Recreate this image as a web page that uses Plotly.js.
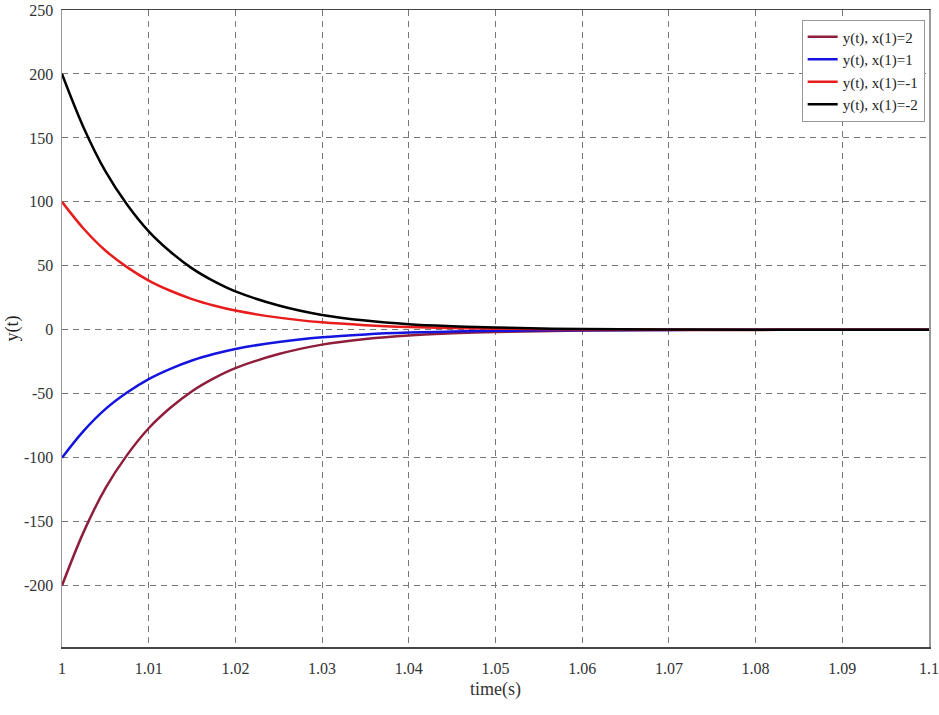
<!DOCTYPE html>
<html><head><meta charset="utf-8">
<script src="https://cdn.plot.ly/plotly-3.0.1.min.js"></script>
<style>html,body{margin:0;padding:0;background:#fff}#plot{width:939px;height:715px}</style>
</head><body><div id="plot"></div>
<script>
const time = [1, 1.0025, 1.005, 1.0075, 1.01, 1.0125, 1.015, 1.0175, 1.02, 1.025, 1.03, 1.035, 1.04, 1.045, 1.05, 1.06, 1.07, 1.08, 1.09, 1.1];
const y_x2 = [-200, -158, -124, -98, -77, -61, -48, -38, -30, -19, -11.6, -7.2, -4.4, -2.8, -1.7, -0.6, -0.2, -0.1, 0, 0];
const y_x1 = [-100, -79, -62, -49, -38.5, -30.5, -24, -19, -15, -9.5, -5.8, -3.6, -2.2, -1.4, -0.85, -0.3, -0.1, 0, 0, 0];
const y_xm1 = [100, 79, 62, 49, 38.5, 30.5, 24, 19, 15, 9.5, 5.8, 3.6, 2.2, 1.4, 0.85, 0.3, 0.1, 0, 0, 0];
const y_xm2 = [200, 158, 124, 98, 77, 61, 48, 38, 30, 19, 11.6, 7.2, 4.4, 2.8, 1.7, 0.6, 0.2, 0.1, 0, 0];
const names = ['y(t), x(1)=2', 'y(t), x(1)=1', 'y(t), x(1)=-1', 'y(t), x(1)=-2'];
const colors = ['#8e1e3c', '#1414e0', '#e81c1c', '#000000'];
const xTicks = [1, 1.01, 1.02, 1.03, 1.04, 1.05, 1.06, 1.07, 1.08, 1.09, 1.1];
const xTickText = ['1', '1.01', '1.02', '1.03', '1.04', '1.05', '1.06', '1.07', '1.08', '1.09', '1.1'];
const yTicks = [-200, -150, -100, -50, 0, 50, 100, 150, 200, 250];
const yTickText = ['-200', '-150', '-100', '-50', '0', '50', '100', '150', '200', '250'];

const series = [y_x2, y_x1, y_xm1, y_xm2];
const data = series.map((s, i) => ({
  x: time, y: s, type: 'scatter', mode: 'lines', name: names[i],
  line: {color: colors[i], width: 2.5, shape: 'spline', smoothing: 1}
}));
const font = {family: '"Liberation Serif", "Times New Roman", serif', color: '#333', size: 16};
const layout = {
  width: 939, height: 715,
  margin: {l: 62, r: 10, t: 10, b: 68},
  paper_bgcolor: '#fff', plot_bgcolor: '#fff',
  font: font,
  showlegend: true,
  legend: {x: 0.995, y: 0.985, xanchor: 'right', yanchor: 'top', bgcolor: '#fff',
    bordercolor: '#999', borderwidth: 1, font: {family: font.family, size: 15, color: '#222'},
    tracegroupgap: 0, itemwidth: 30},
  xaxis: {range: [1, 1.1], tickmode: 'array', tickvals: xTicks, ticktext: xTickText,
    showgrid: true, gridcolor: '#777', griddash: '6px,5px', gridwidth: 1,
    showline: true, linecolor: '#444', linewidth: 1.5, mirror: true, ticks: '', zeroline: false,
    ticklabelstandoff: 6,
    title: {text: 'time(s)', font: {family: font.family, size: 18, color: '#333'}, standoff: 6}},
  yaxis: {range: [-248, 250], tickmode: 'array', tickvals: yTicks, ticktext: yTickText,
    showgrid: true, gridcolor: '#777', griddash: '6px,5px', gridwidth: 1,
    showline: true, linecolor: '#999', linewidth: 1.5, mirror: true, ticks: '', zeroline: false,
    ticklabelstandoff: 4,
    title: {text: 'y(t)', font: {family: font.family, size: 18, color: '#222'}, standoff: 0}}
};
Plotly.newPlot('plot', data, layout, {displayModeBar: false, staticPlot: true});
</script></body></html>
